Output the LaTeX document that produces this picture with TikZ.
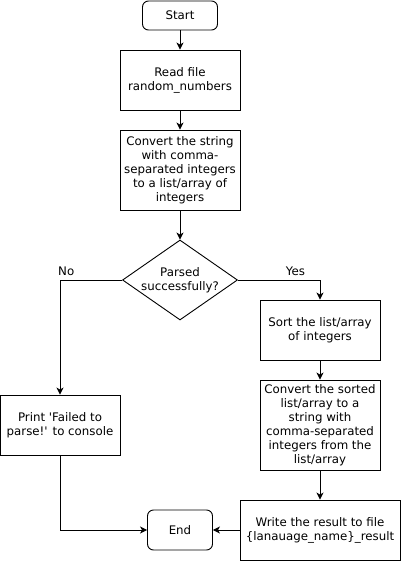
\documentclass[tikz,border=0pt]{standalone}
\usepackage{fontspec}
\setmainfont{DejaVu Sans}
\usetikzlibrary{shapes.geometric,positioning,arrows.meta}

\begin{document}
\begin{tikzpicture}[x=1pt,y=1pt,node distance=60pt,on grid,auto,
  >={Stealth[length=7pt,width=7pt,inset=2pt]},line width=0.9pt,
  font=\fontsize{11.8}{14}\selectfont,
  term/.style={draw,rounded corners=6pt,align=center,inner sep=0pt},
  proc/.style={draw,align=center,minimum width=120pt,minimum height=60pt,inner sep=0pt},
  cond/.style={draw,diamond,aspect=1.44,align=center,minimum width=115pt,minimum height=80pt,inner sep=0pt}]
\useasboundingbox (0,0) rectangle (401,-561);
\node[term,minimum width=75pt,minimum height=29pt] (start) at (180,-15.5) {Start};
\node[proc] (read) [below = 64.5pt of start] {Read file\\random\_numbers};
\node[proc,minimum height=80pt] (conv) [below = 90pt of read] {Convert the string\\with comma-\\separated integers\\to a list/array of\\integers};
\node[cond] (parsed) [below = 110pt of conv] {Parsed\\successfully?};
\node[proc] (sort) [below right = 50pt and 140pt of parsed] {Sort the list/array\\of integers};
\node[proc,minimum height=90pt] (conv2) [below = 95pt of sort] {Convert the sorted\\list/array to a\\string with\\comma-separated\\integers from the\\list/array};
\node[proc,minimum width=160pt] (write) [below = 105pt of conv2] {Write the result to file\\\{lanauage\_name\}\_result};
\node[term,minimum width=65pt,minimum height=40pt] (end) [left = 140pt of write] {End};
\node[proc] (fail) [left = 260pt of conv2] {Print \textquotesingle Failed to\\parse!\textquotesingle{} to console};
\draw[->] (start) -- (read);
\draw[->] (read) -- (conv);
\draw[->] (conv) -- (parsed);
\draw[->] (parsed.west) -| node[pos=0.45,above=1pt] {No} (fail.north);
\draw[->] (parsed.east) -| node[pos=0.35,above=1pt] {Yes} (sort.north);
\draw[->] (sort) -- (conv2);
\draw[->] (conv2) -- (write);
\draw[->] (write) -- (end);
\draw[->] (fail.south) |- (end.west);
\end{tikzpicture}
\end{document}
